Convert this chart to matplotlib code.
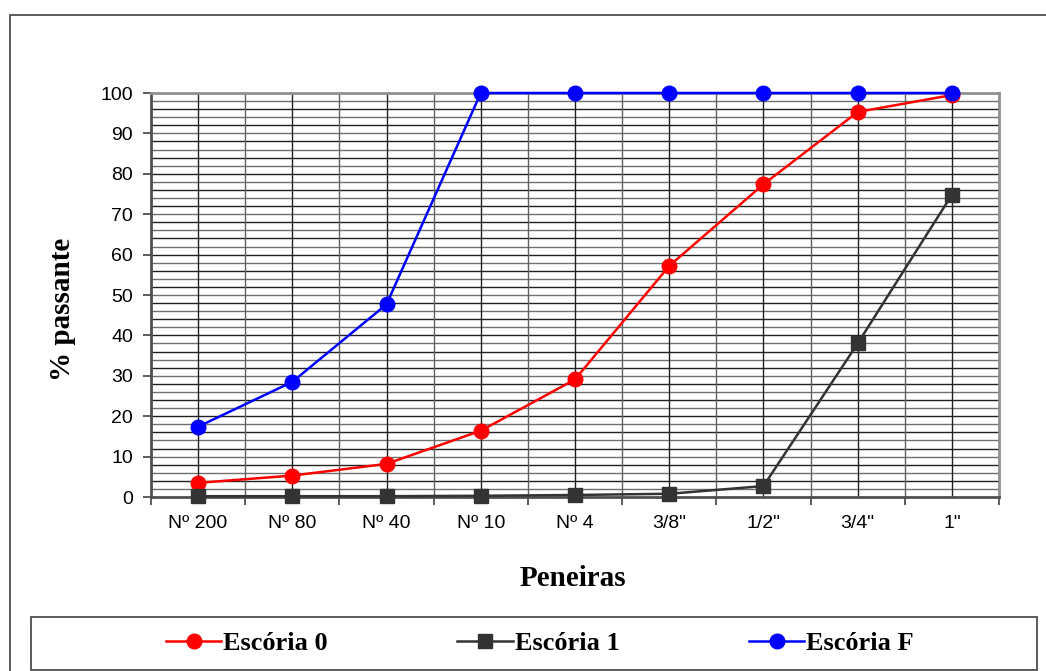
import matplotlib
matplotlib.use("Agg")
import matplotlib.pyplot as plt
from matplotlib.patches import Rectangle
from matplotlib.ticker import MultipleLocator, FixedLocator, NullFormatter

categories = ["Nº 200", "Nº 80", "Nº 40", "Nº 10", "Nº 4", '3/8"', '1/2"', '3/4"', '1"']
escoria_0 = [3.5, 5.3, 8.2, 16.4, 29.1, 57.2, 77.4, 95.3, 99.5]
escoria_1 = [0.2, 0.2, 0.2, 0.3, 0.5, 0.8, 2.7, 38.0, 74.8]
escoria_f = [17.4, 28.5, 47.7, 100.0, 100.0, 100.0, 100.0, 100.0, 100.0]

W, H = 1046, 671
fig = plt.figure(figsize=(W / 100, H / 100), dpi=100)
fig.patch.set_facecolor("white")

# outer chart border
fig.patches.append(Rectangle((10 / W, -0.05), 1.2, 1 - 15 / H + 0.05, transform=fig.transFigure,
                             fill=False, edgecolor="#404040", linewidth=1.2))

ax = fig.add_axes([151 / W, 1 - 497 / H, (999 - 151) / W, (497 - 93) / H])
x = list(range(len(categories)))

ax.set_xlim(-0.5, len(categories) - 0.5)
ax.set_ylim(0, 100)

# grid
for yv in range(2, 100, 2):
    ax.axhline(yv, color="#202020" if yv % 4 == 0 else "#707070", linewidth=1.0, zorder=1)
for i in range(len(categories)):
    ax.axvline(i, color="#202020", linewidth=1.0, zorder=1)
    if i > 0:
        ax.axvline(i - 0.5, color="#606060", linewidth=1.0, zorder=1)

l0, = ax.plot(x, escoria_0, color="#ff0000", linewidth=1.8, marker="o", markersize=10.5,
              label="Escória 0", zorder=3, clip_on=False)
l1, = ax.plot(x, escoria_1, color="#333333", linewidth=1.8, marker="s", markersize=10,
              label="Escória 1", zorder=3, clip_on=False)
lf, = ax.plot(x, escoria_f, color="#0000ff", linewidth=1.8, marker="o", markersize=10.5,
              label="Escória F", zorder=4, clip_on=False)

ax.yaxis.set_major_locator(MultipleLocator(10))
ax.set_xticks(x)
ax.set_xticklabels(categories, fontsize=14, fontfamily="Liberation Sans")
ax.tick_params(axis="x", which="major", length=0, pad=13)
ax.xaxis.set_minor_locator(FixedLocator([i - 0.5 for i in range(len(categories) + 1)]))
ax.xaxis.set_minor_formatter(NullFormatter())
ax.tick_params(axis="x", which="minor", length=6, width=1.2, color="#404040", direction="out")
ax.tick_params(axis="y", which="major", length=6, width=1.2, color="#404040", direction="out",
               labelsize=14, pad=7)
for lab in ax.get_yticklabels():
    lab.set_fontfamily("Liberation Sans")

for side in ["top", "right"]:
    ax.spines[side].set_color("#909090")
    ax.spines[side].set_linewidth(2)
for side in ["left", "bottom"]:
    ax.spines[side].set_color("#505050")
    ax.spines[side].set_linewidth(2)

fig.text(63 / W, 1 - 309 / H, "% passante", rotation=90, ha="center", va="center",
         fontsize=21, fontweight="bold", fontfamily="Liberation Serif")
fig.text(573 / W, 1 - 578 / H, "Peneiras", ha="center", va="center",
         fontsize=21, fontweight="bold", fontfamily="Liberation Serif")

# legend box
fig.patches.append(Rectangle((31 / W, 1 - 670 / H), (1037 - 31) / W, (670 - 617) / H,
                             transform=fig.transFigure, fill=False, edgecolor="#404040",
                             linewidth=1.2))
fig.legend(handles=[l0, l1, lf], loc="center", bbox_to_anchor=(540 / W, 1 - 643 / H),
           ncol=3, frameon=False, handlelength=2.1, handletextpad=0.08, columnspacing=4.9,
           borderpad=0, prop={"family": "Liberation Serif", "weight": "bold", "size": 19})

fig.savefig("out.png", dpi=100, facecolor="white")
